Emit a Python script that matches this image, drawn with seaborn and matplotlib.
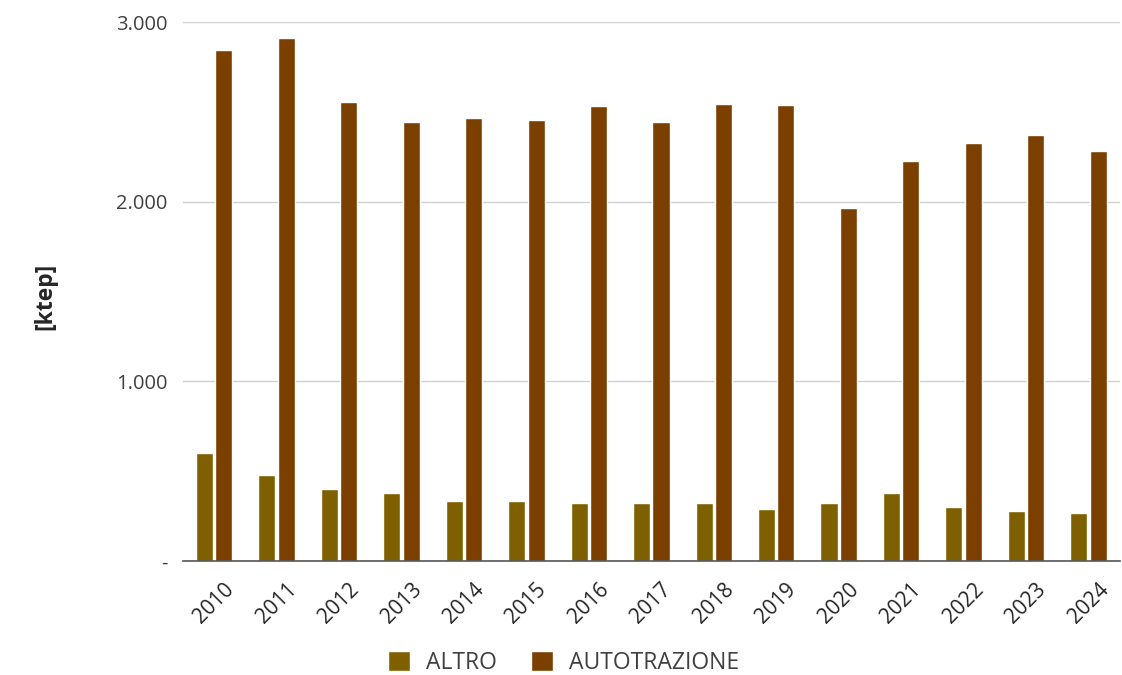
import pandas as pd
import matplotlib.pyplot as plt
import seaborn as sns

sns.set_style("white")
plt.rcParams["font.family"] = ["Open Sans", "DejaVu Sans"]

# dati (ktep)
anni = [str(a) for a in range(2010, 2025)]
altro = [602, 479, 402, 380, 335, 335, 322, 322, 322, 290, 322, 378, 298, 279, 266]
autotrazione = [2845, 2914, 2557, 2445, 2469, 2458, 2535, 2445, 2547, 2538,
                1968, 2225, 2326, 2370, 2281]
serie = ["ALTRO", "AUTOTRAZIONE"]
colori = ["#7F6000", "#7B3F00"]

df = pd.DataFrame({
    "Anno": anni * 2,
    "Valore": altro + autotrazione,
    "Serie": [serie[0]] * len(anni) + [serie[1]] * len(anni),
})

fig = plt.figure(figsize=(11.22, 6.75), dpi=100)
ax = fig.add_axes([0.163, 0.169, 0.835, 0.798])

sns.barplot(data=df, x="Anno", y="Valore", hue="Serie", palette=colori,
            saturation=1, width=0.62, gap=0.12, ax=ax, legend=True)

ax.set_ylim(0, 3000)
ax.set_xlim(-0.5, len(anni) - 0.5)
ax.set_yticks([0, 1000, 2000, 3000])
ax.set_yticklabels(["-", "1.000", "2.000", "3.000"], fontsize=14.5, color="#404040")
ax.yaxis.grid(True, color="#d0d0d0", linewidth=1)
ax.set_axisbelow(True)
for lato in ["left", "right", "top"]:
    ax.spines[lato].set_visible(False)
ax.spines["bottom"].set_color("#555555")
ax.spines["bottom"].set_linewidth(1.2)
ax.tick_params(axis="y", length=0, pad=11)
ax.tick_params(axis="x", length=0, pad=13)
plt.setp(ax.get_xticklabels(), rotation=45, fontsize=15, color="#262626",
         ha="center", rotation_mode="default")
ax.set_xlabel("")
ax.set_ylabel("")

fig.text(0.04, 0.561, "[ktep]", rotation=90, fontsize=16.5, fontweight="bold",
         ha="center", va="center", color="#262626")

handles, labels = ax.get_legend_handles_labels()
ax.get_legend().remove()
fig.legend(handles, labels, loc="center", bbox_to_anchor=(0.502, 0.018), ncol=2,
           frameon=False, fontsize=16.5, handlelength=0.95, handleheight=0.95,
           columnspacing=1.5, handletextpad=0.7, labelcolor="#404040",
           borderpad=0.1)

fig.savefig("out.png", dpi=100)
